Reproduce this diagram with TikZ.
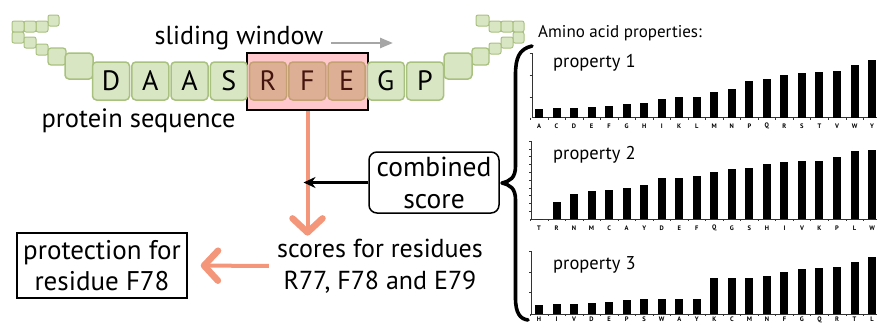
\documentclass[tikz,border=0pt]{standalone}
\usepackage{fontspec}
\setmainfont{PT Sans}
\usetikzlibrary{arrows.meta}
\definecolor{gfill}{RGB}{217,230,195}
\definecolor{gline}{RGB}{169,193,127}
\definecolor{pinkw}{RGB}{255,200,205}
\definecolor{rfill}{RGB}{221,176,150}
\definecolor{rline}{RGB}{196,160,115}
\definecolor{rtext}{RGB}{70,20,15}
\definecolor{salmon}{RGB}{244,150,122}
\definecolor{grayarr}{RGB}{166,166,166}
\tikzset{
  seqbox/.style={draw=gline, fill=gfill, line width=1.5pt, rounded corners=4pt,
    minimum width=37pt, minimum height=38pt, inner sep=0pt,
    font=\fontsize{28}{28}\selectfont},
  winres/.style={seqbox, draw=rline, fill=rfill, text=rtext},
  chainbox/.style={draw=gline, fill=gfill, line width=1pt, rounded corners=2pt},
  bigtext/.style={font=\fontsize{26.5}{31}\selectfont, inner sep=0pt, align=center},
  salarrow/.style={draw=salmon, line width=4pt,
    -{Straight Barb[length=14pt,width=30pt,line width=6.5pt,round]}},
  axisline/.style={line width=0.6pt, black!80},
  lbl/.style={font=\fontsize{6.5}{7}\bfseries\selectfont, inner sep=0pt},
  proptitle/.style={font=\fontsize{18.5}{18.5}\selectfont, inner sep=0pt, anchor=west},
}
\begin{document}
\begin{tikzpicture}[x=1pt,y=-1pt]
\useasboundingbox (0,0) rectangle (877,324);

% chain squares left
\draw[chainbox] (48,15) rectangle (59,26);
\draw[chainbox] (36,21) rectangle (48,32);
\draw[chainbox] (24,21) rectangle (36,32);
\draw[chainbox] (12,21) rectangle (24,32);
\draw[chainbox] (12,32) rectangle (24,43);
\draw[chainbox] (24,37) rectangle (36,48);
\draw[chainbox] (36,44) rectangle (48,55);
\draw[chainbox, line width=1.3pt, rounded corners=3pt] (48,48) rectangle (66,65);
\draw[chainbox, line width=1.5pt, rounded corners=4pt] (65,53) rectangle (93,79);
% chain squares right
\draw[chainbox] (476,15) rectangle (489,26);
\draw[chainbox] (489,21) rectangle (501,32);
\draw[chainbox] (501,21) rectangle (513,32);
\draw[chainbox] (513,21) rectangle (524,32);
\draw[chainbox] (513,32) rectangle (524,43);
\draw[chainbox] (501,37) rectangle (513,48);
\draw[chainbox] (489,43) rectangle (501,54);
\draw[chainbox, line width=1.3pt, rounded corners=3pt] (472,48) rectangle (489,65);
\draw[chainbox, line width=1.5pt, rounded corners=4pt] (444,53) rectangle (472,79);

% window
\node[draw, line width=1.5pt, fill=pinkw, minimum width=121pt, minimum height=57pt, inner sep=0pt] (win) at (307.5,81.5) {};

% sequence
\node[seqbox] (s1) at (111,81) {D};
\node[seqbox] (s2) at (150.3,81) {A};
\node[seqbox] (s3) at (189.5,81) {A};
\node[seqbox] (s4) at (228.8,81) {S};
\node[winres] (s5) at (268,81) {R};
\node[winres] (s6) at (307.3,81) {F};
\node[winres] (s7) at (346.5,81) {E};
\node[seqbox] (s8) at (385.8,81) {G};
\node[seqbox] (s9) at (425,81) {P};

% labels
\node[bigtext, font=\fontsize{26}{31}\selectfont] (slide) at (239,38) {sliding window};
\coordinate (gw) at (393,43);
\draw[grayarr, line width=2.5pt, -{Triangle[length=13pt,width=10pt]}] (331,43) -- (gw);
\node[bigtext] (prot) at (138.5,121) {protein sequence};

\node[bigtext, font=\fontsize{26}{32}\selectfont] (scores) at (380,266) {scores for residues\\R77, F78 and E79};
\node[bigtext, draw, line width=1.5pt, minimum width=170pt, minimum height=65pt, font=\fontsize{27}{31}\selectfont] (protect) at (102,265.5) {protection for\\residue F78};
\node[bigtext, draw, line width=1.5pt, rounded corners=8pt, minimum width=130pt, minimum height=61pt, font=\fontsize{27.5}{32}\selectfont] (comb) at (434,182.5) {combined\\score};

% arrows
\draw[salarrow] (win.south) -- ([yshift=3pt]win.south |- scores.north);
\draw[salarrow, shorten <=8pt, shorten >=13pt] (scores.west) -- (protect.east);
\draw[line width=3pt, -{Stealth[length=12pt,width=11pt]}, shorten >=-4pt] (comb.west) -- (comb.west -| win.south);

% brace
\draw[line width=3.6pt, line cap=round, line join=round]
  (532,46) .. controls (519,49) and (515.5,58) .. (515.5,75) -- (515.5,166)
  .. controls (515.5,178) and (510,181) .. (502,183)
  .. controls (510,185) and (515.5,188) .. (515.5,200) -- (515.5,298)
  .. controls (515.5,313) and (520,319) .. (528,320);

\node[font=\fontsize{17}{17}\selectfont, inner sep=0pt, anchor=west] (aap) at (538,33) {Amino acid properties:};

% chart 1
\node[proptitle] (p1) at (553,63) {property 1};
\draw[axisline] (532,53) -- (532,117.5) -- (877,117.5);
\foreach \y in {53,75,97} \draw[axisline] (529.5,\y) -- (532,\y);
\foreach \i in {0,...,19} \draw[axisline] (530.3+17.53*\i,117.5) -- ++(0,2);
\foreach \l/\t [count=\i from 0] in {A/109.3,C/107.7,D/107.7,E/107,F/106,G/104.3,H/102.7,I/99.3,K/97,L/97,M/92,N/89,P/81.3,Q/79.3,R/75.3,S/73,T/72,V/71,W/65.3,Y/60.3}{
  \fill (539+17.53*\i-4,117.5) rectangle (539+17.53*\i+4,\t);
  \node[lbl] (ca\i) at (539+17.53*\i,126) {\l};
}

% chart 2
\node[proptitle] (p2) at (553,155) {property 2};
\draw[axisline] (531.5,141) -- (531.5,219) -- (877,219);
\foreach \k in {0,...,9} \draw[axisline] (529,141+7.8*\k) -- (531.5,141+7.8*\k);
\foreach \i in {0,...,19} \draw[axisline] (530.3+17.53*\i,219) -- ++(0,2);
\foreach \l/\t [count=\i from 0] in {T/219,R/202,N/194,M/191.3,C/190,A/188,Y/184.7,D/178,E/178,F/176,Q/172.3,G/169,S/168,H/163.7,I/161.7,V/161,K/161,P/156.7,L/150.7,W/150.3}{
  \fill (539+17.53*\i-4,219) rectangle (539+17.53*\i+4,\t);
  \node[lbl] (cb\i) at (539+17.53*\i,228) {\l};
}

% chart 3
\node[proptitle] (p3) at (553,265) {property 3};
\draw[axisline] (531.5,251) -- (531.5,314) -- (877,314);
\foreach \y in {251,272,292} \draw[axisline] (529,\y) -- (531.5,\y);
\foreach \i in {0,...,19} \draw[axisline] (530.3+17.53*\i,314) -- ++(0,2);
\foreach \l/\t [count=\i from 0] in {H/305.3,I/304,V/304,D/303,E/302,P/300.3,S/299,W/299,A/299,Y/299,K/277.7,C/277.7,M/277.7,N/275.7,F/271.7,G/269.3,Q/268.3,R/267.3,T/261.7,L/256.7}{
  \fill (539+17.53*\i-4,314) rectangle (539+17.53*\i+4,\t);
  \node[lbl] (cc\i) at (539+17.53*\i,319.5) {\l};
}
\end{tikzpicture}
\end{document}
